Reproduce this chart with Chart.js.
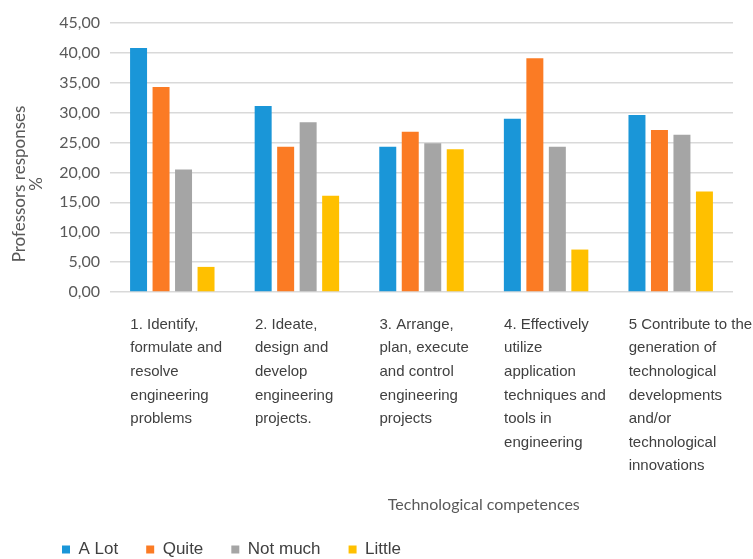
<!DOCTYPE html>
<html>
<head>
<meta charset="utf-8">
<script src="https://cdn.jsdelivr.net/npm/chart.js@4"></script>
<style>
  html, body { margin: 0; padding: 0; background: #fff; overflow: hidden; }
  #wrap { width: 753px; height: 559px; position: relative; }
</style>
</head>
<body>
<div id="wrap"><canvas id="competencesChart"></canvas></div>
<script>
// categories (one array of lines per label)
const competences = [
    ['1. Identify,', 'formulate and', 'resolve', 'engineering', 'problems'],
    ['2. Ideate,', 'design and', 'develop', 'engineering', 'projects.'],
    ['3. Arrange,', 'plan, execute', 'and control', 'engineering', 'projects'],
    ['4. Effectively', 'utilize', 'application', 'techniques and', 'tools in', 'engineering'],
    ['5 Contribute to the', 'generation of', 'technological', 'developments', 'and/or', 'technological', 'innovations']
];

// series values (% of professors responses)
const aLot = [40.8, 31.1, 24.3, 29.0, 29.6];
const quite = [34.3, 24.3, 26.8, 39.1, 27.1];
const notMuch = [20.5, 28.4, 24.9, 24.3, 26.3];
const little = [4.2, 16.1, 23.9, 7.1, 16.8];

const seriesNames = ['A Lot', 'Quite', 'Not much', 'Little'];
const seriesColors = ['#1a96d8', '#fb7b24', '#a5a5a5', '#ffc000'];

const yMin = 0;
const yMax = 45;
const yStep = 5;

const xTitle = 'Technological competences';
const yTitle = ['Professors responses', '%'];

// draws axis titles where the original puts them and nudges the legend
const titlesPlugin = {
    id: 'titles',
    afterUpdate(chart) {
        const lg = chart.legend;
        lg.left += 34;
        lg.right += 34;
        lg.top += 9;
        lg.bottom += 9;
    },
    afterDraw(chart) {
        const c = chart.ctx;
        const area = chart.chartArea;
        c.save();
        c.fillStyle = '#595959';
        c.textAlign = 'center';
        c.textBaseline = 'middle';
        c.font = '16px Lato';
        c.fillText(xTitle, area.left + area.width * 0.6, 505);

        c.font = '17px Lato';
        c.translate(20, 184);
        c.rotate(-Math.PI / 2);
        c.fillText(yTitle[0], 0, 0);
        c.fillText(yTitle[1], 0, 17);
        c.restore();
    }
};

const ctx = document.getElementById('competencesChart').getContext('2d');
new Chart(ctx, {
    type: 'bar',
    data: {
        labels: competences,
        datasets: [aLot, quite, notMuch, little].map((values, i) => ({
            label: seriesNames[i],
            data: values,
            backgroundColor: seriesColors[i],
            borderWidth: 0,
            categoryPercentage: 0.722,
            barPercentage: 0.755
        }))
    },
    options: {
        responsive: true,
        maintainAspectRatio: false,
        animation: false,
        layout: {
            padding: { top: 23, right: 20, left: 0, bottom: 0 }
        },
        plugins: {
            legend: {
                position: 'bottom',
                align: 'start',
                labels: {
                    boxWidth: 8,
                    boxHeight: 8,
                    padding: 28,
                    color: '#404040',
                    font: { family: 'Liberation Sans', size: 17 }
                }
            },
            tooltip: { enabled: false }
        },
        scales: {
            x: {
                grid: { display: false },
                border: { display: false },
                ticks: {
                    align: 'start',
                    labelOffset: -42,
                    padding: 13,
                    maxRotation: 0,
                    autoSkip: false,
                    color: '#404040',
                    font: { family: 'Liberation Sans', size: 15, lineHeight: 1.57 }
                },
                afterFit(scale) {
                    scale.height = 212;
                    scale.paddingLeft = 0;
                    scale.paddingRight = 0;
                }
            },
            y: {
                min: yMin,
                max: yMax,
                border: { display: false },
                grid: { color: '#d9d9d9', lineWidth: 1.4, drawTicks: false },
                ticks: {
                    stepSize: yStep,
                    padding: 10,
                    color: '#595959',
                    font: { family: 'Lato', size: 16 },
                    callback: value => value.toFixed(2).replace('.', ',')
                },
                afterFit(scale) {
                    scale.width = 110;
                }
            }
        }
    },
    plugins: [titlesPlugin]
});
</script>
</body>
</html>
